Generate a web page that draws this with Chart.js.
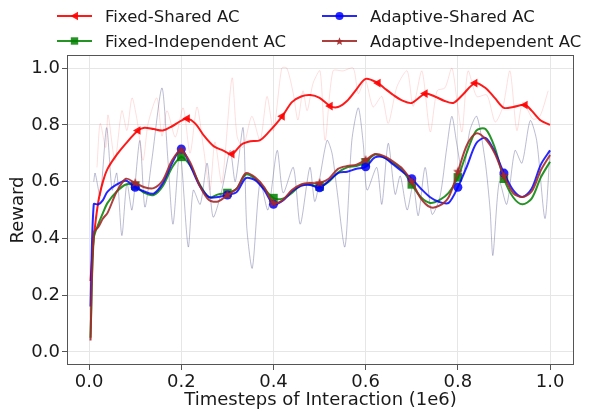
<!DOCTYPE html>
<html>
<head>
<meta charset="utf-8">
<script src="https://cdn.jsdelivr.net/npm/chart.js@4/dist/chart.umd.min.js"></script>
<style>
  body { margin: 0; background: #fff; }
  #wrap { position: relative; width: 591px; height: 411px; }
  #legend { position: absolute; left: 0; top: 0; font-family: "DejaVu Sans"; font-size: 16.5px; color: #1a1a1a; }
  .item { position: absolute; display: flex; align-items: center; height: 20px; white-space: nowrap; }
  .item svg { margin-right: 13px; }
</style>
</head>
<body>
<div id="wrap">
  <canvas id="chart" width="591" height="411"></canvas>
  <div id="legend"></div>
</div>
<script>
// x positions (timesteps, 1e6) of the smoothed curves
const steps = [0.003, 0.01, 0.02, 0.03, 0.04, 0.06, 0.08, 0.1, 0.12, 0.14, 0.16, 0.18, 0.2, 0.22, 0.24, 0.26, 0.28, 0.3,
  0.32, 0.34, 0.36, 0.38, 0.4, 0.42, 0.44, 0.46, 0.48, 0.5, 0.52, 0.54, 0.56, 0.58, 0.6, 0.62, 0.64, 0.66, 0.68, 0.7,
  0.72, 0.74, 0.76, 0.78, 0.8, 0.82, 0.84, 0.86, 0.88, 0.9, 0.92, 0.94, 0.96, 0.98, 1.0]
const markSteps = [0.1, 0.2, 0.3, 0.4, 0.5, 0.6, 0.7, 0.8, 0.9]

// Fixed-Shared AC has its own sampling
const fsSteps = [0.003, 0.01, 0.02, 0.03, 0.04, 0.06, 0.08, 0.106, 0.12, 0.14, 0.16, 0.18, 0.2, 0.213, 0.23, 0.25, 0.27,
  0.29, 0.31, 0.33, 0.35, 0.37, 0.39, 0.419, 0.44, 0.46, 0.48, 0.5, 0.523, 0.54, 0.56, 0.58, 0.6, 0.627, 0.64, 0.66,
  0.68, 0.7, 0.729, 0.75, 0.77, 0.79, 0.81, 0.837, 0.86, 0.88, 0.9, 0.92, 0.946, 0.96, 0.98, 1.0]
const fsMarkSteps = [0.106, 0.213, 0.31, 0.419, 0.523, 0.627, 0.729, 0.837, 0.946]
const fixedShared = [0.25, 0.40, 0.53, 0.60, 0.645, 0.695, 0.735, 0.78, 0.79, 0.785, 0.78, 0.795, 0.815, 0.822, 0.805,
  0.76, 0.725, 0.71, 0.697, 0.73, 0.742, 0.745, 0.775, 0.83, 0.88, 0.90, 0.905, 0.895, 0.866, 0.863, 0.885, 0.925,
  0.962, 0.947, 0.93, 0.905, 0.885, 0.877, 0.91, 0.90, 0.885, 0.877, 0.905, 0.947, 0.93, 0.895, 0.86, 0.863, 0.87,
  0.85, 0.815, 0.80]

const fixedIndependent = [0.05, 0.40, 0.45, 0.49, 0.525, 0.565, 0.59, 0.585, 0.56, 0.553, 0.585, 0.65, 0.687, 0.655,
  0.59, 0.545, 0.555, 0.56, 0.575, 0.625, 0.61, 0.575, 0.542, 0.54, 0.56, 0.588, 0.59, 0.582, 0.60, 0.632, 0.65, 0.655,
  0.668, 0.695, 0.685, 0.665, 0.64, 0.59, 0.545, 0.525, 0.535, 0.56, 0.615, 0.705, 0.78, 0.785, 0.72, 0.61, 0.545,
  0.52, 0.54, 0.615, 0.67]
const adaptiveShared = [0.16, 0.52, 0.52, 0.535, 0.565, 0.59, 0.603, 0.58, 0.565, 0.558, 0.595, 0.665, 0.715, 0.655,
  0.585, 0.545, 0.546, 0.553, 0.563, 0.612, 0.605, 0.57, 0.52, 0.533, 0.565, 0.585, 0.588, 0.578, 0.603, 0.63, 0.635,
  0.645, 0.652, 0.685, 0.685, 0.66, 0.635, 0.61, 0.575, 0.545, 0.528, 0.525, 0.58, 0.655, 0.735, 0.754, 0.705, 0.63,
  0.57, 0.546, 0.575, 0.66, 0.71]
const adaptiveIndependent = [0.04, 0.42, 0.44, 0.47, 0.49, 0.565, 0.61, 0.595, 0.58, 0.577, 0.605, 0.675, 0.71, 0.665,
  0.585, 0.535, 0.53, 0.553, 0.575, 0.63, 0.615, 0.58, 0.525, 0.535, 0.57, 0.59, 0.595, 0.595, 0.61, 0.645, 0.655,
  0.66, 0.676, 0.697, 0.69, 0.67, 0.645, 0.60, 0.54, 0.51, 0.515, 0.545, 0.635, 0.73, 0.77, 0.75, 0.70, 0.62, 0.56,
  0.546, 0.565, 0.64, 0.694]

// raw (unsmoothed) rewards, drawn faintly behind
const rawFsSteps = [0.017, 0.024, 0.036, 0.041, 0.056, 0.071, 0.082, 0.093, 0.104, 0.117, 0.128, 0.147, 0.158, 0.169,
  0.187, 0.204, 0.219, 0.234, 0.248, 0.262, 0.273, 0.288, 0.31, 0.321, 0.334, 0.353, 0.371, 0.386, 0.4, 0.418, 0.429,
  0.443, 0.453, 0.464, 0.473, 0.486, 0.501, 0.512, 0.529, 0.551, 0.573, 0.584, 0.599, 0.616, 0.635, 0.649, 0.668,
  0.69, 0.703, 0.722, 0.74, 0.755, 0.772, 0.787, 0.798, 0.809, 0.822, 0.841, 0.863, 0.881, 0.898, 0.913, 0.928,
  0.941, 0.963, 0.978, 0.996]
const rawFixedShared = [0.65, 0.805, 0.72, 0.835, 0.675, 0.85, 0.78, 0.895, 0.817, 0.675, 0.805, 0.895, 0.76, 0.85,
  0.757, 0.86, 0.70, 0.863, 0.72, 0.57, 0.74, 0.595, 0.965, 0.76, 0.72, 0.83, 0.745, 0.90, 0.78, 1.0, 1.0, 0.91,
  0.817, 0.92, 0.85, 0.947, 0.99, 0.745, 0.99, 0.99, 1.0, 0.91, 0.96, 0.863, 0.90, 0.805, 0.935, 0.99, 0.865, 0.99,
  0.775, 0.92, 0.93, 1.0, 0.887, 0.775, 0.99, 0.90, 0.905, 0.81, 0.865, 0.99, 0.78, 0.88, 0.82, 0.83, 0.92]

const rawAdSteps = [0.01, 0.013, 0.024, 0.038, 0.05, 0.06, 0.071, 0.082, 0.093, 0.11, 0.121, 0.136, 0.158, 0.171,
  0.182, 0.197, 0.215, 0.226, 0.241, 0.256, 0.269, 0.288, 0.306, 0.317, 0.334, 0.342, 0.354, 0.371, 0.388, 0.408,
  0.421, 0.443, 0.458, 0.479, 0.49, 0.516, 0.527, 0.537, 0.555, 0.57, 0.584, 0.595, 0.603, 0.624, 0.635, 0.649,
  0.664, 0.675, 0.69, 0.703, 0.714, 0.729, 0.744, 0.761, 0.776, 0.787, 0.798, 0.811, 0.826, 0.841, 0.859, 0.87,
  0.876, 0.89, 0.906, 0.924, 0.939, 0.957, 0.971, 0.989, 1.0]
const rawAdaptive = [0.60, 0.63, 0.55, 0.79, 0.57, 0.63, 0.41, 0.595, 0.50, 0.745, 0.51, 0.675, 0.93, 0.675, 0.45,
  0.71, 0.37, 0.57, 0.52, 0.665, 0.475, 0.57, 0.71, 0.60, 0.79, 0.44, 0.295, 0.60, 0.50, 0.71, 0.56, 0.65, 0.45, 0.65,
  0.53, 0.745, 0.70, 0.58, 0.37, 0.745, 0.86, 0.73, 0.57, 0.65, 0.52, 0.735, 0.555, 0.62, 0.50, 0.59, 0.48, 0.65,
  0.485, 0.545, 0.72, 0.83, 0.73, 0.62, 0.78, 0.83, 0.675, 0.50, 0.34, 0.60, 0.52, 0.71, 0.665, 0.815, 0.745, 0.47,
  0.71]

const xTicks = [0, 0.2, 0.4, 0.6, 0.8, 1.0]
const yTicks = [0, 0.2, 0.4, 0.6, 0.8, 1.0]

const colors = {
  fs: "rgba(255,0,0,0.9)",
  fi: "rgba(0,128,0,0.85)",
  as: "rgba(0,0,255,0.85)",
  ai: "rgba(165,42,42,0.9)",
}

function pairs(xs, ys) {
  return xs.map((x, i) => ({ x: x, y: ys[i] }))
}

function markerRadius(marks, r) {
  return (ctx) => (ctx.raw && marks.includes(ctx.raw.x) ? r : 0)
}

function starImage(color, r) {
  const c = document.createElement("canvas")
  c.width = c.height = 2 * r + 2
  const g = c.getContext("2d")
  g.fillStyle = color
  g.beginPath()
  for (let i = 0; i < 10; i++) {
    const a = -Math.PI / 2 + (i * Math.PI) / 5
    const rr = i % 2 ? r * 0.45 : r
    g.lineTo(r + 1 + rr * Math.cos(a), r + 1 + rr * Math.sin(a))
  }
  g.closePath()
  g.fill()
  return c
}

// Legend (two columns, like the original)
const legendItems = [
  { label: "Fixed-Shared AC", color: colors.fs, marker: "tri", left: 57, top: 6 },
  { label: "Adaptive-Shared AC", color: colors.as, marker: "circle", left: 322, top: 6 },
  { label: "Fixed-Independent AC", color: colors.fi, marker: "square", left: 57, top: 31 },
  { label: "Adaptive-Independent AC", color: colors.ai, marker: "star", left: 322, top: 31 },
]

function markerSvg(kind, color) {
  if (kind === "tri") return `<polygon points="13.5,10 21,5.8 21,14.2" fill="${color}"/>`
  if (kind === "circle") return `<circle cx="17.5" cy="10" r="4" fill="${color}"/>`
  if (kind === "square") return `<rect x="13.8" y="6.3" width="7.4" height="7.4" fill="${color}"/>`
  let pts = []
  for (let i = 0; i < 10; i++) {
    const a = -Math.PI / 2 + (i * Math.PI) / 5
    const rr = i % 2 ? 1.9 : 4.2
    pts.push((17.5 + rr * Math.cos(a)).toFixed(2) + "," + (10.5 + rr * Math.sin(a)).toFixed(2))
  }
  return `<polygon points="${pts.join(" ")}" fill="${color}"/>`
}

const legend = document.getElementById("legend")
legendItems.forEach((it) => {
  const div = document.createElement("div")
  div.className = "item"
  div.style.left = it.left + "px"
  div.style.top = it.top + "px"
  div.innerHTML =
    `<svg width="35" height="20"><line x1="0" y1="10" x2="35" y2="10" stroke="${it.color}" stroke-width="2"/>` +
    markerSvg(it.marker, it.color) + `</svg><span>${it.label}</span>`
  legend.appendChild(div)
})

// frame around the plot area (all four spines)
const framePlugin = {
  id: "frame",
  afterDraw(chart) {
    const { ctx, chartArea: a } = chart
    ctx.save()
    ctx.strokeStyle = "#555"
    ctx.lineWidth = 1
    ctx.strokeRect(a.left + 0.5, a.top + 0.5, a.right - a.left - 1, a.bottom - a.top - 1)
    ctx.restore()
  },
}

Chart.defaults.font.family = "DejaVu Sans"
Chart.defaults.color = "#1a1a1a"

new Chart(document.getElementById("chart"), {
  type: "line",
  data: {
    datasets: [
      {
        label: "Adaptive-Independent AC",
        data: pairs(steps, adaptiveIndependent),
        borderColor: colors.ai,
        backgroundColor: colors.ai,
        borderWidth: 2,
        tension: 0.3,
        pointStyle: starImage(colors.ai, 5),
        pointRadius: markerRadius(markSteps, 4),
        order: 1,
      },
      {
        label: "Adaptive-Shared AC",
        data: pairs(steps, adaptiveShared),
        borderColor: colors.as,
        backgroundColor: colors.as,
        borderWidth: 2,
        tension: 0.3,
        pointStyle: "circle",
        pointRadius: markerRadius(markSteps, 4.5),
        pointBorderWidth: 0,
        order: 2,
      },
      {
        label: "Fixed-Independent AC",
        data: pairs(steps, fixedIndependent),
        borderColor: colors.fi,
        backgroundColor: colors.fi,
        borderWidth: 2,
        tension: 0.3,
        pointStyle: "rect",
        pointRadius: markerRadius(markSteps, 6),
        pointBorderWidth: 0,
        order: 3,
      },
      {
        label: "Fixed-Shared AC",
        data: pairs(fsSteps, fixedShared),
        borderColor: colors.fs,
        backgroundColor: colors.fs,
        borderWidth: 2,
        tension: 0.3,
        pointStyle: "triangle",
        pointRotation: -90,
        pointRadius: markerRadius(fsMarkSteps, 5),
        pointBorderWidth: 0,
        order: 4,
      },
      {
        label: "raw adaptive",
        data: pairs(rawAdSteps, rawAdaptive),
        borderColor: "rgba(80,80,140,0.38)",
        borderWidth: 1,
        tension: 0.25,
        pointRadius: 0,
        order: 5,
      },
      {
        label: "raw fixed shared",
        data: pairs(rawFsSteps, rawFixedShared),
        borderColor: "rgba(255,0,0,0.13)",
        borderWidth: 1,
        tension: 0.25,
        pointRadius: 0,
        order: 6,
      },
    ],
  },
  options: {
    responsive: false,
    devicePixelRatio: 1,
    animation: false,
    layout: { padding: { top: 55, right: 17, left: 0, bottom: 0 } },
    plugins: { legend: { display: false }, tooltip: { enabled: false } },
    scales: {
      x: {
        type: "linear",
        min: -0.048,
        max: 1.052,
        afterBuildTicks: (scale) => { scale.ticks = xTicks.map((v) => ({ value: v })) },
        afterFit: (scale) => { scale.height = 46 },
        ticks: { font: { size: 18 }, padding: 2, maxRotation: 0, callback: (v) => v.toFixed(1) },
        grid: { color: "#e6e6e6", tickColor: "#555", tickLength: 5 },
        border: { display: false },
        title: { display: true, text: "Timesteps of Interaction (1e6)", font: { size: 18 }, padding: { top: 0, bottom: 0 } },
      },
      y: {
        type: "linear",
        min: -0.046,
        max: 1.046,
        afterBuildTicks: (scale) => { scale.ticks = yTicks.map((v) => ({ value: v })) },
        afterFit: (scale) => { scale.width = 67 },
        ticks: { font: { size: 18 }, padding: 2, callback: (v) => v.toFixed(1) },
        grid: { color: "#e6e6e6", tickColor: "#555", tickLength: 5 },
        border: { display: false },
        title: { display: true, text: "Reward", font: { size: 18 }, padding: { top: 8, bottom: 0 } },
      },
    },
  },
  plugins: [framePlugin],
})
</script>
</body>
</html>
